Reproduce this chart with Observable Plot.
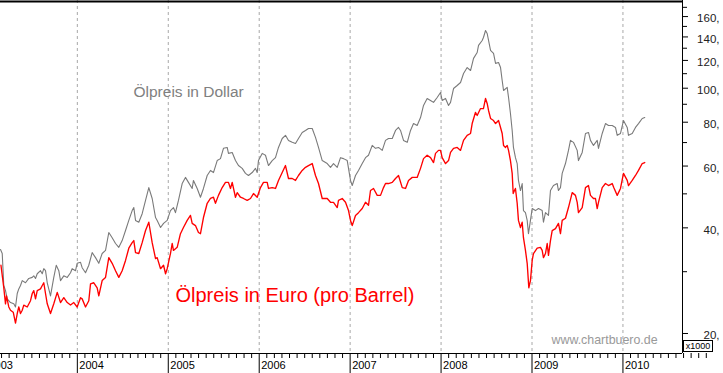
<!DOCTYPE html>
<html><head><meta charset="utf-8">
<script src="https://cdn.jsdelivr.net/npm/d3@7"></script>
<script src="https://cdn.jsdelivr.net/npm/@observablehq/plot@0.6"></script>
<style>
body{margin:0;background:#fff;}
#wrap{position:relative;width:723px;height:373px;overflow:hidden;background:#fff;}
#wrap svg{display:block;}
#x1000{position:absolute;left:683px;top:340px;width:30px;height:12px;border:1px solid #000;box-sizing:border-box;font:9px 'Liberation Sans',Arial,sans-serif;line-height:11px;text-align:center;color:#000;background:#fff;}
</style></head>
<body><div id="wrap"><div id="x1000">x1000</div></div>
<script>
// Ölpreis in Dollar (Brent, pro Barrel)
const usdYear = [2003.155,2003.174,2003.191,2003.210,2003.229,2003.265,2003.301,2003.320,2003.339,2003.356,2003.375,2003.394,2003.430,2003.466,2003.504,2003.521,2003.540,2003.559,2003.595,2003.614,2003.631,2003.650,2003.669,2003.705,2003.741,2003.768,2003.796,2003.815,2003.851,2003.889,2003.925,2003.943,2003.980,2003.998,2004.035,2004.053,2004.090,2004.126,2004.163,2004.200,2004.236,2004.273,2004.310,2004.346,2004.383,2004.420,2004.456,2004.493,2004.530,2004.566,2004.603,2004.621,2004.640,2004.676,2004.713,2004.750,2004.786,2004.823,2004.860,2004.878,2004.915,2004.948,2004.988,2005.024,2005.057,2005.079,2005.112,2005.153,2005.189,2005.222,2005.263,2005.277,2005.318,2005.354,2005.387,2005.428,2005.464,2005.497,2005.538,2005.574,2005.607,2005.648,2005.662,2005.703,2005.739,2005.772,2005.813,2005.849,2005.882,2005.923,2005.959,2005.978,2005.992,2006.033,2006.069,2006.102,2006.143,2006.179,2006.212,2006.253,2006.289,2006.322,2006.363,2006.399,2006.432,2006.473,2006.509,2006.542,2006.583,2006.619,2006.652,2006.693,2006.748,2006.784,2006.817,2006.858,2006.894,2006.927,2006.968,2007.004,2007.023,2007.059,2007.092,2007.133,2007.169,2007.202,2007.243,2007.279,2007.312,2007.353,2007.389,2007.422,2007.463,2007.499,2007.532,2007.554,2007.587,2007.628,2007.664,2007.697,2007.737,2007.774,2007.807,2007.847,2007.884,2007.917,2007.957,2007.994,2008.012,2008.049,2008.082,2008.104,2008.137,2008.177,2008.214,2008.247,2008.287,2008.324,2008.357,2008.397,2008.412,2008.452,2008.466,2008.489,2008.507,2008.544,2008.577,2008.599,2008.632,2008.654,2008.672,2008.687,2008.727,2008.742,2008.763,2008.782,2008.796,2008.818,2008.837,2008.851,2008.873,2008.892,2008.906,2008.928,2008.947,2008.961,2008.983,2009.002,2009.038,2009.071,2009.112,2009.126,2009.148,2009.181,2009.203,2009.236,2009.277,2009.291,2009.313,2009.332,2009.368,2009.401,2009.423,2009.456,2009.497,2009.511,2009.552,2009.588,2009.621,2009.643,2009.676,2009.717,2009.731,2009.772,2009.808,2009.841,2009.882,2009.918,2009.937,2009.973,2010.006,2010.047,2010.061,2010.102,2010.138,2010.171,2010.212,2010.240];
const usd = [34.7,33.8,27.4,26.5,25.1,24.5,24.3,23.8,26.0,26.8,27.4,28.3,27.9,28.7,28.9,29.2,28.7,29.6,30.2,29.6,30.6,30.2,27.9,25.6,28.9,31.3,30.2,28.3,29.2,28.9,29.8,30.6,30.2,31.7,31.9,30.8,29.8,31.3,34.0,32.9,31.7,33.8,34.5,38.8,37.5,36.1,35.2,36.8,39.3,42.0,44.8,45.7,42.0,41.5,43.9,47.9,52.1,48.5,42.8,42.0,40.1,41.2,42.0,44.8,45.7,44.2,47.9,53.5,55.7,53.9,51.8,54.6,51.8,48.9,51.8,56.4,58.3,57.5,62.2,63.0,67.4,67.8,65.2,65.6,62.2,60.2,59.1,57.2,56.4,57.5,59.1,57.5,62.2,65.2,64.4,60.2,62.2,63.4,67.8,71.9,73.4,71.0,70.1,69.6,71.9,74.8,75.8,76.8,76.8,72.4,67.8,62.2,61.0,59.5,61.0,59.5,63.4,63.0,62.2,54.6,52.8,56.4,58.3,61.0,63.4,64.4,68.7,67.4,67.8,66.5,71.0,71.9,71.9,75.8,77.3,75.8,71.0,70.1,75.8,79.3,78.3,82.5,89.3,93.5,92.3,91.1,94.1,97.2,92.3,93.5,89.3,91.1,99.8,101.8,103.8,110.1,114.5,112.3,121.6,126.4,132.4,136.8,139.5,146.0,143.2,128.1,125.6,117.7,118.4,114.5,105.2,98.5,100.5,94.1,84.7,75.8,67.8,63.4,61.0,54.6,51.1,53.5,44.8,44.2,42.0,38.5,42.0,45.4,44.8,45.4,44.8,41.5,44.2,43.4,51.1,52.8,53.5,51.1,52.1,57.2,61.0,66.5,71.0,70.1,66.5,62.2,65.6,74.3,74.8,71.0,68.7,71.0,67.4,74.3,79.3,78.3,78.3,77.3,73.4,74.3,80.9,77.3,73.4,74.3,77.3,79.3,82.0,82.5];

// Ölpreis in Euro (pro Barrel)
const eurYear = [2003.160,2003.191,2003.210,2003.221,2003.246,2003.265,2003.295,2003.320,2003.339,2003.356,2003.375,2003.394,2003.411,2003.449,2003.485,2003.504,2003.521,2003.540,2003.559,2003.595,2003.614,2003.631,2003.650,2003.669,2003.705,2003.741,2003.779,2003.815,2003.851,2003.889,2003.925,2003.961,2003.998,2004.035,2004.053,2004.090,2004.126,2004.145,2004.181,2004.218,2004.236,2004.273,2004.310,2004.346,2004.383,2004.420,2004.456,2004.493,2004.530,2004.566,2004.603,2004.621,2004.640,2004.676,2004.713,2004.750,2004.786,2004.823,2004.860,2004.878,2004.915,2004.948,2004.970,2004.988,2005.024,2005.043,2005.057,2005.098,2005.134,2005.167,2005.208,2005.244,2005.263,2005.299,2005.332,2005.354,2005.387,2005.428,2005.464,2005.497,2005.519,2005.552,2005.593,2005.629,2005.662,2005.684,2005.703,2005.739,2005.758,2005.794,2005.827,2005.868,2005.904,2005.937,2005.978,2006.014,2006.047,2006.088,2006.102,2006.143,2006.179,2006.212,2006.253,2006.289,2006.322,2006.363,2006.399,2006.432,2006.473,2006.509,2006.542,2006.583,2006.619,2006.652,2006.693,2006.748,2006.784,2006.817,2006.858,2006.872,2006.913,2006.949,2006.982,2007.004,2007.023,2007.059,2007.092,2007.133,2007.169,2007.202,2007.224,2007.257,2007.298,2007.334,2007.367,2007.389,2007.422,2007.463,2007.499,2007.532,2007.573,2007.609,2007.642,2007.683,2007.737,2007.774,2007.807,2007.847,2007.884,2007.917,2007.939,2007.972,2007.994,2008.012,2008.049,2008.082,2008.104,2008.137,2008.177,2008.214,2008.247,2008.287,2008.324,2008.342,2008.378,2008.397,2008.434,2008.466,2008.489,2008.507,2008.522,2008.544,2008.577,2008.599,2008.632,2008.654,2008.672,2008.687,2008.709,2008.727,2008.742,2008.763,2008.782,2008.793,2008.807,2008.818,2008.837,2008.851,2008.873,2008.892,2008.906,2008.928,2008.947,2008.965,2008.983,2009.002,2009.016,2009.057,2009.093,2009.112,2009.126,2009.148,2009.167,2009.181,2009.203,2009.222,2009.258,2009.291,2009.313,2009.332,2009.368,2009.401,2009.442,2009.478,2009.497,2009.511,2009.552,2009.588,2009.621,2009.643,2009.676,2009.698,2009.717,2009.731,2009.772,2009.808,2009.841,2009.882,2009.899,2009.937,2009.973,2010.006,2010.047,2010.061,2010.102,2010.138,2010.171,2010.212,2010.240];
const eur = [31.3,27.0,24.3,25.6,23.8,23.3,23.0,21.4,22.8,23.8,22.8,23.3,24.1,23.8,24.8,26.0,26.5,25.1,26.5,26.8,27.4,27.9,26.0,24.3,22.8,24.3,26.2,24.5,25.3,24.5,24.1,24.5,23.8,25.3,25.1,23.8,24.8,27.7,27.9,27.0,25.6,28.3,28.9,32.9,31.7,30.2,28.9,30.2,32.3,35.0,36.3,36.8,34.0,33.8,36.3,39.3,41.5,36.3,32.7,32.9,30.6,31.3,29.6,30.6,33.8,36.1,34.5,35.2,38.5,40.1,42.0,43.4,41.2,40.6,38.8,38.5,42.8,47.0,48.5,48.9,47.0,49.5,52.1,53.9,53.9,51.8,53.9,48.9,50.4,48.9,48.5,47.9,48.5,50.1,48.9,52.1,53.9,53.9,51.8,52.1,51.8,54.6,57.5,60.2,55.3,55.3,54.6,56.4,58.3,59.5,60.2,61.0,56.4,53.5,48.5,48.5,47.3,47.3,45.7,47.9,48.5,47.3,44.8,42.0,40.6,43.4,44.2,45.4,47.3,46.4,51.1,51.8,49.5,49.5,52.1,53.5,53.5,53.9,55.3,56.4,52.1,51.8,54.6,55.7,55.7,59.1,63.0,64.4,63.4,61.4,65.2,66.5,66.5,63.4,61.0,62.2,65.6,67.4,67.8,66.5,71.0,73.4,74.3,79.3,85.3,83.6,87.5,87.5,93.5,90.5,86.4,82.0,80.9,79.3,80.9,77.3,74.3,68.7,67.8,68.7,66.5,62.2,57.2,50.1,51.1,51.8,47.0,42.0,40.1,41.5,37.5,34.5,31.7,27.0,28.3,32.3,33.8,35.0,35.2,34.5,32.9,33.8,36.1,33.4,36.8,39.3,39.8,41.2,38.5,42.0,42.6,45.7,50.4,49.5,47.3,44.2,45.7,52.1,52.8,49.5,48.5,48.5,45.4,47.3,52.1,53.5,52.8,53.5,52.1,49.5,51.8,57.2,54.6,52.8,54.6,56.4,58.3,61.0,61.4];

const yearTicks = [2003,2004,2005,2006,2007,2008,2009,2010];
const priceTicks = [20,40,60,80,100,120,140,160];
const minorPriceTicks = [30,50,70,90,110,130,150,170];
const xDomain = [2003.155, 2010.655];
const yDomain = [17.54, 177.8];

const monthTicks = [];
for (const y of yearTicks) for (let m = 1; m < 12; m++) monthTicks.push(y + m / 12);

const font = "'Liberation Sans', Arial, sans-serif";

const chart = Plot.plot({
  width: 723, height: 373,
  marginLeft: 0, marginRight: 41, marginTop: 0, marginBottom: 20,
  style: {fontFamily: font, background: "white"},
  x: {domain: xDomain, axis: null},
  y: {type: "log", domain: yDomain, axis: null},
  marks: [
    Plot.ruleX(yearTicks.slice(1), {stroke: "#a8a8a8", strokeDasharray: "3,3"}),
    Plot.line(usd, {x: usdYear, y: usd, stroke: "#7a7a7a", strokeWidth: 1.1}),
    Plot.line(eur, {x: eurYear, y: eur, stroke: "#ff0000", strokeWidth: 1.35}),
    Plot.ruleY([yDomain[0]], {stroke: "#000"}),
    Plot.ruleX([xDomain[1]], {stroke: "#000"}),
    Plot.ruleY([yDomain[1]], {stroke: "#000", strokeWidth: 2, dy: 1}),
    Plot.axisX(monthTicks, {tickSize: 5, tickFormat: () => "", stroke: "#000", label: null}),
    Plot.axisX(yearTicks, {tickSize: 21, tickFormat: () => "", stroke: "#000", label: null}),
    Plot.text(yearTicks, {x: d => d, text: d => String(d), frameAnchor: "bottom", dy: 12, dx: 2, textAnchor: "start", lineAnchor: "middle", fontSize: 11, fill: "#000"}),
    Plot.axisY(priceTicks, {anchor: "right", tickSize: 5, tickFormat: () => "", stroke: "#000", label: null}),
    Plot.axisY(minorPriceTicks, {anchor: "right", tickSize: 4, tickFormat: () => "", stroke: "#000", label: null}),
    Plot.text(priceTicks, {y: d => d, text: d => d + ",", frameAnchor: "right", dx: 37, dy: 2, textAnchor: "end", lineAnchor: "middle", fontSize: 11.5, fill: "#222"}),
    Plot.text(["Ölpreis in Dollar"], {frameAnchor: "top-left", dx: 133, dy: 92, textAnchor: "start", lineAnchor: "middle", fontSize: 15.5, fill: "#808080"}),
    Plot.text(["Ölpreis in Euro (pro Barrel)"], {frameAnchor: "top-left", dx: 175, dy: 295, textAnchor: "start", lineAnchor: "middle", fontSize: 20, fill: "#ff0000"}),
    Plot.text(["www.chartbuero.de"], {frameAnchor: "top-left", dx: 551, dy: 340, textAnchor: "start", lineAnchor: "middle", fontSize: 12.4, fill: "#999"})
  ]
});
document.getElementById("wrap").prepend(chart);
</script>
</body></html>
